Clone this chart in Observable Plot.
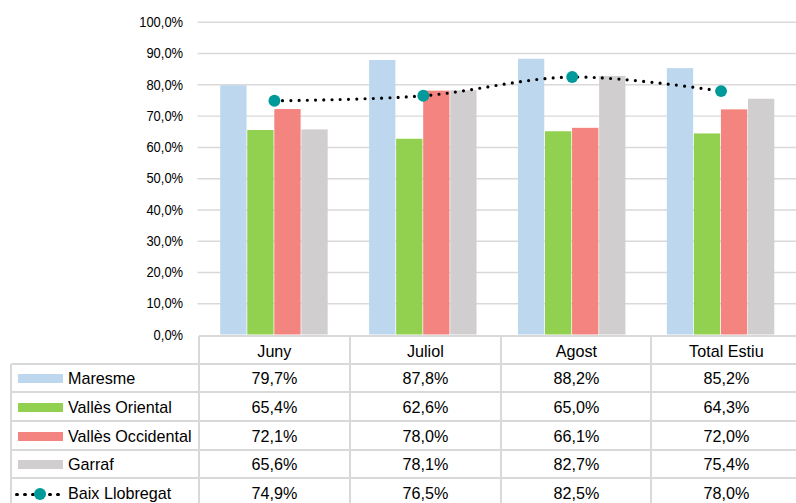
<!DOCTYPE html>
<html><head><meta charset="utf-8">
<script src="https://cdn.jsdelivr.net/npm/d3@7"></script>
<script src="https://cdn.jsdelivr.net/npm/@observablehq/plot@0.6"></script>
<style>
html,body{margin:0;padding:0;background:#fff;}
body{font-family:"Liberation Sans",Arial,sans-serif;}
#wrap{position:relative;width:796px;height:503px;overflow:hidden;background:#fff;}
#wrap svg.plot{max-width:none;position:absolute;left:0;top:0;}
.t{position:absolute;font-size:17px;color:#000;white-space:nowrap;line-height:20px;transform:scaleX(0.95);transform-origin:left center;}
.c{text-align:center;transform-origin:center center;}
.hl,.vl{position:absolute;background:#D9D9D9;}
.sw{position:absolute;height:9px;width:45px;}
</style>
</head><body>
<div id="wrap"></div>
<script>
const categories = ["Juny", "Juliol", "Agost", "Total Estiu"];
const seriesNames = ["Maresme", "Vallès Oriental", "Vallès Occidental", "Garraf"];
const maresme = [79.7, 87.8, 88.2, 85.2];
const vallesOriental = [65.4, 62.6, 65.0, 64.3];
const vallesOccidental = [72.1, 78.0, 66.1, 72.0];
const garraf = [65.6, 78.1, 82.7, 75.4];
const lineName = "Baix Llobregat";
const baixLlobregat = [74.9, 76.5, 82.5, 78.0];
const barColors = ["#BDD7EE", "#92D050", "#F4847F", "#D0CECE"];
const lineColor = "#000000";
const dotColor = "#009A9A";
const yTicks = [0, 10, 20, 30, 40, 50, 60, 70, 80, 90, 100];

const barSeries = [maresme, vallesOriental, vallesOccidental, garraf];
const fmt = v => v.toFixed(1).replace(".", ",") + "%";

const W = 802, H = 503, ML = 199, MT = 22, MB = 166;
const bw = (W - ML) / categories.length;
const barW = 27.25;
const off = (bw - barW * barSeries.length) / 2;

const marks = [
  Plot.ruleY(yTicks.filter(d => d > 0), {stroke: "#D9D9D9", strokeWidth: 1.5}),
  ...barSeries.map((vals, i) => Plot.barY(
    categories.map((c, j) => ({cat: c, v: vals[j], s: seriesNames[i]})),
    {x: "cat", y: "v", fill: barColors[i], insetLeft: off + i * barW, insetRight: bw - off - (i + 1) * barW}
  )),
  Plot.line(categories.map((c, j) => ({cat: c, v: baixLlobregat[j]})),
    {x: "cat", y: "v", stroke: lineColor, strokeWidth: 3.2, strokeDasharray: "0 8.3", strokeLinecap: "round", curve: "catmull-rom"}),
  Plot.dot(categories.map((c, j) => ({cat: c, v: baixLlobregat[j]})),
    {x: "cat", y: "v", r: 6, fill: dotColor, stroke: "none"}),
  Plot.axisY(yTicks, {tickSize: 0, tickPadding: 15, tickFormat: fmt, fontSize: 15, label: null})
];

const chart = Plot.plot({
  width: W, height: H,
  marginLeft: ML, marginRight: 0, marginTop: MT, marginBottom: MB,
  style: {fontFamily: '"Liberation Sans",Arial,sans-serif', color: "#000", background: "transparent"},
  x: {domain: categories, padding: 0, axis: null},
  y: {domain: [0, 100], axis: null},
  marks
});
// condense the y tick labels horizontally (narrow face in the original)
chart.querySelectorAll('g[aria-label="y-axis tick label"] text').forEach(t => {
  const tr = t.getAttribute("transform") || "";
  t.setAttribute("transform", tr + " scale(0.87,1)");
});
const wrap = document.getElementById("wrap");
wrap.appendChild(chart);

// data table below the chart
const tTop = 336, hdrBottom = 363.5, rowH = 28.7, legL = 11;
const rows = [...seriesNames, lineName];
const rowVals = [...barSeries, baixLlobregat];
const nRows = rows.length;
const tBottom = hdrBottom + nRows * rowH + 10;
function el(cls, css, text) {
  const d = document.createElement("div");
  d.className = cls;
  Object.assign(d.style, css);
  if (text != null) d.textContent = text;
  wrap.appendChild(d);
  return d;
}
el("hl", {left: ML + "px", top: (tTop - 1) + "px", width: (W - ML) + "px", height: "2px"});
for (let r = 0; r < nRows; r++) {
  const y = hdrBottom + r * rowH;
  el("hl", {left: legL + "px", top: (y - 1) + "px", width: (W - legL) + "px", height: "2px"});
}
for (let k = 0; k <= categories.length; k++) {
  const x = ML + k * bw;
  el("vl", {left: (x - 1) + "px", top: tTop + "px", width: "2px", height: (tBottom - tTop) + "px"});
}
el("vl", {left: (legL - 1) + "px", top: hdrBottom + "px", width: "2px", height: (tBottom - hdrBottom) + "px"});
categories.forEach((c, k) => {
  el("t c", {left: (ML + k * bw) + "px", width: bw + "px", top: (352 - 10) + "px"}, c);
});
rows.forEach((name, r) => {
  const cy = hdrBottom + r * rowH + rowH / 2 + 1.5;
  el("t", {left: "68px", top: (cy - 10) + "px"}, name);
  if (r < barSeries.length) {
    el("sw", {left: "18px", top: (cy - 5) + "px", background: barColors[r]});
  } else {
    [17, 25, 33, 50, 58].forEach(x => el("sw", {left: (x - 1.6) + "px", top: (cy - 1.6) + "px", width: "3.2px", height: "3.2px", borderRadius: "50%", background: lineColor}));
    el("sw", {left: "34px", top: (cy - 6) + "px", width: "12px", height: "12px", borderRadius: "50%", background: dotColor});
  }
  rowVals[r].forEach((v, k) => {
    el("t c", {left: (ML + k * bw) + "px", width: bw + "px", top: (cy - 10) + "px"}, fmt(v));
  });
});
</script>
</body></html>
